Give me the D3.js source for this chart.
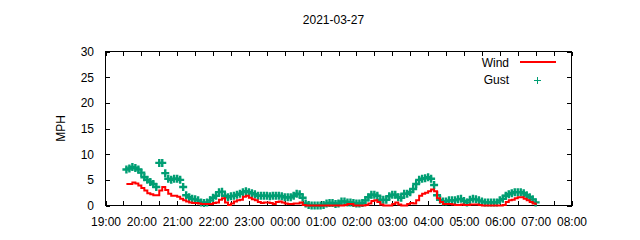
<!DOCTYPE html>
<html><head><meta charset="utf-8">
<script src="https://cdn.jsdelivr.net/npm/d3@7"></script>
<style>
body{margin:0;background:#fff}
svg{display:block}
text{font-family:"Liberation Sans",Arial,sans-serif;font-size:12px;fill:#000}
</style>
</head><body>
<svg id="c" width="640" height="240"></svg>
<script>
const title = "2021-03-27";
const yLabel = "MPH";
const seriesNames = ["Wind", "Gust"];
const xDomain = ["2021-03-26T19:00", "2021-03-27T08:00"];
const xTickLabels = ["19:00","20:00","21:00","22:00","23:00","00:00","01:00","02:00","03:00","04:00","05:00","06:00","07:00","08:00"];
const yTicks = [0, 5, 10, 15, 20, 25, 30];
const startTime = "2021-03-26T19:35";
const stepMinutes = 5;
// one row per hour of 5-minute readings
const windMph = [
  4.2,4.2,4.5,4.3,3.9,
  3.4,2.9,2.4,2.2,2.0,2.0,2.9,3.6,3.0,2.3,1.9,1.9,
  1.7,1.3,1.0,0.8,0.6,0.5,0.5,0.4,0.3,0.3,0.3,0.3,
  0.5,0.6,1.1,1.4,0.6,0.1,0.4,0.8,1.0,1.1,1.7,1.9,
  1.5,1.2,1.0,0.7,0.5,0.6,0.6,0.5,0.3,0.7,0.8,0.6,
  0.4,0.3,0.3,0.4,0.4,0.6,0.1,0,0,0,0,0,
  0,0,0,0,0,0,0,0,0.1,0.3,0.3,0,
  0,0,0,0.1,0.4,0.9,1.0,0.7,0.2,0,0,0,
  0.3,0.6,0.2,0,0,0.3,0.5,0.4,1.0,1.9,2.3,2.5,
  2.8,3.1,2.8,1.4,0.7,0.3,0.3,0.3,0.2,0.1,0.1,0.2,
  0.1,0.1,0.2,0.2,0.2,0.1,0,0,0,0,0,0,
  0,0.1,0.7,1.0,1.1,1.4,1.6,1.6,1.3,1.0,0.7,0.4,
  0.1
];
const gustMph = [
  7.0,7.2,7.5,7.3,7.0,
  6.4,5.5,5.0,4.6,4.2,3.6,8.3,8.3,6.3,5.2,5.0,5.2,
  5.2,5.0,3.6,2.0,1.6,1.3,1.2,1.0,0.6,0.5,0.6,1.0,
  1.5,1.9,2.6,2.7,1.9,1.6,1.8,1.9,2.1,2.3,2.6,2.8,
  2.6,2.4,2.2,1.9,1.9,1.9,1.9,1.8,1.9,1.9,1.9,1.8,
  1.6,1.6,1.6,1.9,2.3,2.2,1.5,0.4,0.1,0,0,0,
  0,0.1,0.4,0.5,0.5,0.3,0.4,0.8,0.8,0.6,0.6,0.5,
  0.4,0.4,0.5,1.0,1.6,2.1,2.1,1.9,1.1,1.1,1.1,1.8,
  2.1,2.1,1.6,1.5,2.3,2.3,2.6,3.2,4.2,5.0,5.2,5.3,
  5.5,5.2,4.0,2.0,1.1,0.8,0.8,1.0,1.0,1.0,1.2,1.3,
  0.9,0.6,1.1,1.3,1.2,1.0,0.8,0.6,0.6,0.6,0.6,0.6,
  1.0,1.3,1.9,2.2,2.4,2.6,2.6,2.6,2.4,2.0,1.6,1.2,
  0.6
];
const windColor = "#ff0000";
const gustColor = "#009e73";

const parse = d3.timeParse("%Y-%m-%dT%H:%M");
const t0 = parse(startTime);
const times = windMph.map((_, i) => d3.timeMinute.offset(t0, i * stepMinutes));

const L = 105.5, R = 571.5, T = 51.5, B = 205.5;
const svg = d3.select("#c");
const x = d3.scaleTime().domain(xDomain.map(parse)).range([L, R]);
const y = d3.scaleLinear().domain([0, 30]).range([B, T]);

const hourTicks = d3.timeHour.every(1).range(parse(xDomain[0]), d3.timeMinute.offset(parse(xDomain[1]), 1));
const halfTicks = d3.timeMinute.every(30).range(parse(xDomain[0]), d3.timeMinute.offset(parse(xDomain[1]), 1));
const fmt = d => {
  const i = hourTicks.findIndex(h => +h === +d);
  return i >= 0 ? xTickLabels[i] : "";
};

const tk = 4.5;
const gB = svg.append("g").attr("transform", `translate(0,${B})`)
  .call(d3.axisBottom(x).tickValues(halfTicks).tickFormat(fmt).tickSizeInner(-tk).tickSizeOuter(0).tickPadding(12));
const gT = svg.append("g").attr("transform", `translate(0,${T})`)
  .call(d3.axisTop(x).tickValues(halfTicks).tickFormat("").tickSizeInner(-tk).tickSizeOuter(0));
const gL = svg.append("g").attr("transform", `translate(${L},0)`)
  .call(d3.axisLeft(y).tickValues(yTicks).tickSizeInner(-tk).tickSizeOuter(0).tickPadding(11.5));
const gR = svg.append("g").attr("transform", `translate(${R},0)`)
  .call(d3.axisRight(y).tickValues(yTicks).tickFormat("").tickSizeInner(-tk).tickSizeOuter(0));
[gB, gT, gL, gR].forEach(g => {
  g.select(".domain").remove();
  g.selectAll("line").attr("stroke", "#000").attr("shape-rendering", "crispEdges");
  g.selectAll("text").attr("font-family", null).attr("font-size", null).attr("fill", "#000");
});
svg.append("rect").attr("x", L).attr("y", T).attr("width", R - L).attr("height", B - T)
  .attr("fill", "none").attr("stroke", "#000").attr("shape-rendering", "crispEdges");

// title & y label
svg.append("text").attr("x", (L + R) / 2 - 5).attr("y", 24).attr("text-anchor", "middle").text(title);
svg.append("text").attr("transform", `translate(65,${(T + B) / 2}) rotate(-90)`).attr("text-anchor", "middle").text(yLabel);

// gust points
const plus = "M-4,0H4M0,-4V4";
svg.append("g").selectAll("path").data(gustMph).join("path")
  .attr("transform", (d, i) => `translate(${x(times[i])},${y(d)})`)
  .attr("d", plus).attr("stroke", gustColor).attr("stroke-width", 2.4).attr("fill", "none");

// wind line
const line = d3.line().x((d, i) => x(times[i])).y(d => y(d)).curve(d3.curveStepAfter);
svg.append("path").datum(windMph).attr("d", line).attr("fill", "none")
  .attr("stroke", windColor).attr("stroke-width", 2);

// legend
const lg = svg.append("g");
lg.append("text").attr("x", 509).attr("y", 67).attr("text-anchor", "end").text(seriesNames[0]);
lg.append("line").attr("x1", 520).attr("x2", 556).attr("y1", 62).attr("y2", 62)
  .attr("stroke", windColor).attr("stroke-width", 2);
lg.append("text").attr("x", 509).attr("y", 84).attr("text-anchor", "end").text(seriesNames[1]);
lg.append("path").attr("transform", "translate(537.5,80.5)").attr("d", "M-3.5,0H3.5M0,-3.5V3.5")
  .attr("stroke", gustColor).attr("stroke-width", 1);
</script>
</body></html>
